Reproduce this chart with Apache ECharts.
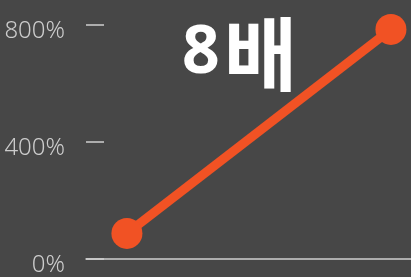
<!DOCTYPE html>
<html>
<head>
<meta charset="utf-8">
<script src="https://cdn.jsdelivr.net/npm/echarts@6/dist/echarts.min.js"></script>
<style>
html,body{margin:0;padding:0;background:#474747;}
#c{width:411px;height:277px;}
</style>
</head>
<body>
<div id="c"></div>
<script>
const xValues = [0, 1];
const seriesValues = [86, 785];
const yTicks = [0, 400, 800];
const headline = ['8', '배'];

const chart = echarts.init(document.getElementById('c'), null, {renderer: 'canvas'});
chart.setOption({
  backgroundColor: '#474747',
  animation: false,
  title: {
    text: '{a|' + headline[0] + '}{b|' + headline[1] + '}',
    left: 177,
    top: 9,
    textStyle: {
      rich: {
        a: {fontFamily: 'Noto Sans', fontWeight: 'bold', fontSize: 66, color: '#ffffff', padding:[0,4,0,0]},
        b: {fontFamily: 'Noto Sans CJK KR', fontWeight: 'bold', fontSize: 80, color: '#ffffff'}
      }
    }
  },
  grid: {left: 86, right: 0, top: 25, bottom: 18, containLabel: false},
  xAxis: {
    type: 'value',
    min: -0.155,
    max: 1.076,
    axisLine: {show: true, onZero: true, lineStyle: {color: '#cfcfcf', width: 1.5}},
    axisTick: {show: false},
    axisLabel: {show: false},
    splitLine: {show: false}
  },
  yAxis: {
    type: 'value',
    min: yTicks[0],
    max: yTicks[yTicks.length - 1],
    interval: yTicks[1] - yTicks[0],
    axisLine: {show: false, onZero: false},
    axisTick: {show: true, inside: true, length: 18, lineStyle: {color: '#cfcfcf', width: 1.5}},
    axisLabel: {
      formatter: '{v|{value}%}',
      margin: 21,
      rich: {v: {color: '#cccccc', fontFamily: 'Noto Sans', fontWeight: 300, fontSize: 24, padding: [13, 0, 0, 0]}}
    },
    splitLine: {show: false}
  },
  series: [{
    type: 'line',
    data: xValues.map((x, i) => [x, seriesValues[i]]),
    symbol: 'circle',
    symbolSize: 31,
    lineStyle: {color: '#f15224', width: 9},
    itemStyle: {color: '#f15224'},
    z: 3
  }]
});
</script>
</body>
</html>
